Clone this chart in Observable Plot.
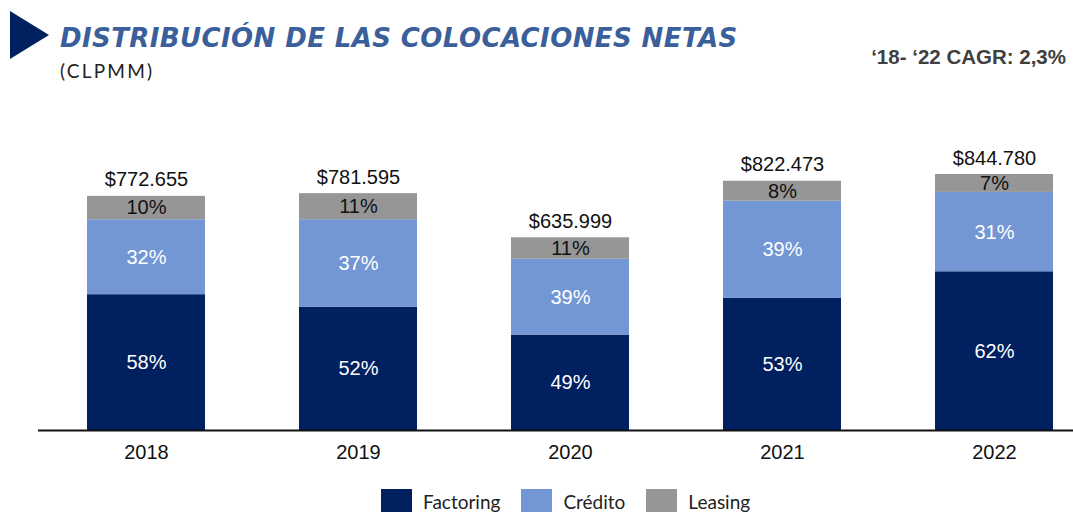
<!DOCTYPE html>
<html>
<head>
<meta charset="utf-8">
<script src="https://cdn.jsdelivr.net/npm/d3@7"></script>
<script src="https://cdn.jsdelivr.net/npm/@observablehq/plot@0.6"></script>
<style>
  html, body { margin: 0; padding: 0; background: #fff; }
  #wrap { position: relative; width: 1073px; height: 512px; overflow: hidden; background: #fff; }
  .abs { position: absolute; white-space: nowrap; line-height: 1; }
  #tri { position: absolute; left: 10px; top: 11px; width: 0; height: 0;
         border-left: 39px solid #002060; border-top: 24px solid transparent; border-bottom: 24px solid transparent; }
  #title { left: 60px; top: 25px; font-family: "DejaVu Sans", Lato, sans-serif; font-weight: 700; font-style: italic;
           font-size: 26px; color: #3b5f9b; letter-spacing: 0.4px; }
  #sub { left: 60px; top: 61px; font-family: Lato, sans-serif; font-size: 19px; color: #222; letter-spacing: 2.2px; }
  #cagr { right: 7px; top: 47px; font-family: "Liberation Sans", Arial, sans-serif; font-weight: 700; font-size: 20.5px; color: #404040; }
  #chart { position: absolute; left: 0; top: 100px; }
  #legend { position: absolute; left: 381px; top: 489px; display: flex; align-items: flex-start;
            font-family: Lato, sans-serif; font-size: 19px; color: #222; }
  .item { display: flex; align-items: flex-start; margin-right: 21px; }
  .sw { width: 31px; height: 30px; margin-right: 11px; }
  .lab { line-height: 1; margin-top: 3px; }
</style>
</head>
<body>
<div id="wrap">
  <div id="tri"></div>
  <div id="title" class="abs">DISTRIBUCIÓN DE LAS COLOCACIONES NETAS</div>
  <div id="sub" class="abs">(CLPMM)</div>
  <div id="cagr" class="abs">‘18- ‘22 CAGR: 2,3%</div>
  <div id="chart"></div>
  <div id="legend"></div>
</div>
<script>
// ---- Data ----
const years = ["2018", "2019", "2020", "2021", "2022"];
const totals = [772.655, 781.595, 635.999, 822.473, 844.780];
const totalLabels = ["$772.655", "$781.595", "$635.999", "$822.473", "$844.780"];
const seriesNames = ["Factoring", "Crédito", "Leasing"];
const factoringPct = [58, 52, 49, 53, 62];
const creditoPct = [32, 37, 39, 39, 31];
const leasingPct = [10, 11, 11, 8, 7];
const seriesColors = ["#002060", "#7396d4", "#969696"];
const labelColors = ["#ffffff", "#ffffff", "#111111"];

// ---- Build stacked segments ----
const pctBySeries = [factoringPct, creditoPct, leasingPct];
const segments = [];
years.forEach((yr, i) => {
  const sum = pctBySeries.reduce((s, arr) => s + arr[i], 0);
  let base = 0;
  seriesNames.forEach((name, k) => {
    const v = totals[i] * pctBySeries[k][i] / sum;
    segments.push({year: yr, series: name, y1: base, y2: base + v, mid: base + v / 2,
                   label: pctBySeries[k][i] + "%", tcolor: labelColors[k]});
    base += v;
  });
});
const totalRows = years.map((yr, i) => ({year: yr, total: totals[i], label: totalLabels[i]}));

const chart = Plot.plot({
  width: 1073,
  height: 370,
  marginTop: 40,
  marginBottom: 40,
  marginLeft: 38,
  marginRight: 0,
  style: {fontFamily: "'Liberation Sans', Arial, sans-serif", background: "transparent"},
  x: {domain: years, range: [85, 1056], paddingInner: 0.4413, paddingOuter: 0, axis: null, label: null},
  y: {domain: [0, 957], axis: null},
  color: {domain: seriesNames, range: seriesColors},
  marks: [
    Plot.barY(segments, {x: "year", y1: "y1", y2: "y2", fill: "series"}),
    Plot.text(segments, {x: "year", y: "mid", text: "label", fill: "tcolor", fontSize: 20}),
    Plot.text(totalRows, {x: "year", y: "total", text: "label", fill: "#111", fontSize: 20, lineAnchor: "bottom", dy: -10}),
    Plot.ruleY([0], {stroke: "#111", strokeWidth: 2}),
    Plot.axisX({tickSize: 0, tickPadding: 14, fontSize: 20, fill: "#111", color: "#111", label: null})
  ]
});
document.getElementById("chart").appendChild(chart);

// ---- Legend ----
const legend = document.getElementById("legend");
seriesNames.forEach((name, k) => {
  const item = document.createElement("div");
  item.className = "item";
  const sw = document.createElement("div");
  sw.className = "sw";
  sw.style.background = seriesColors[k];
  const lab = document.createElement("div");
  lab.className = "lab";
  lab.textContent = name;
  item.appendChild(sw);
  item.appendChild(lab);
  legend.appendChild(item);
});
</script>
</body>
</html>
